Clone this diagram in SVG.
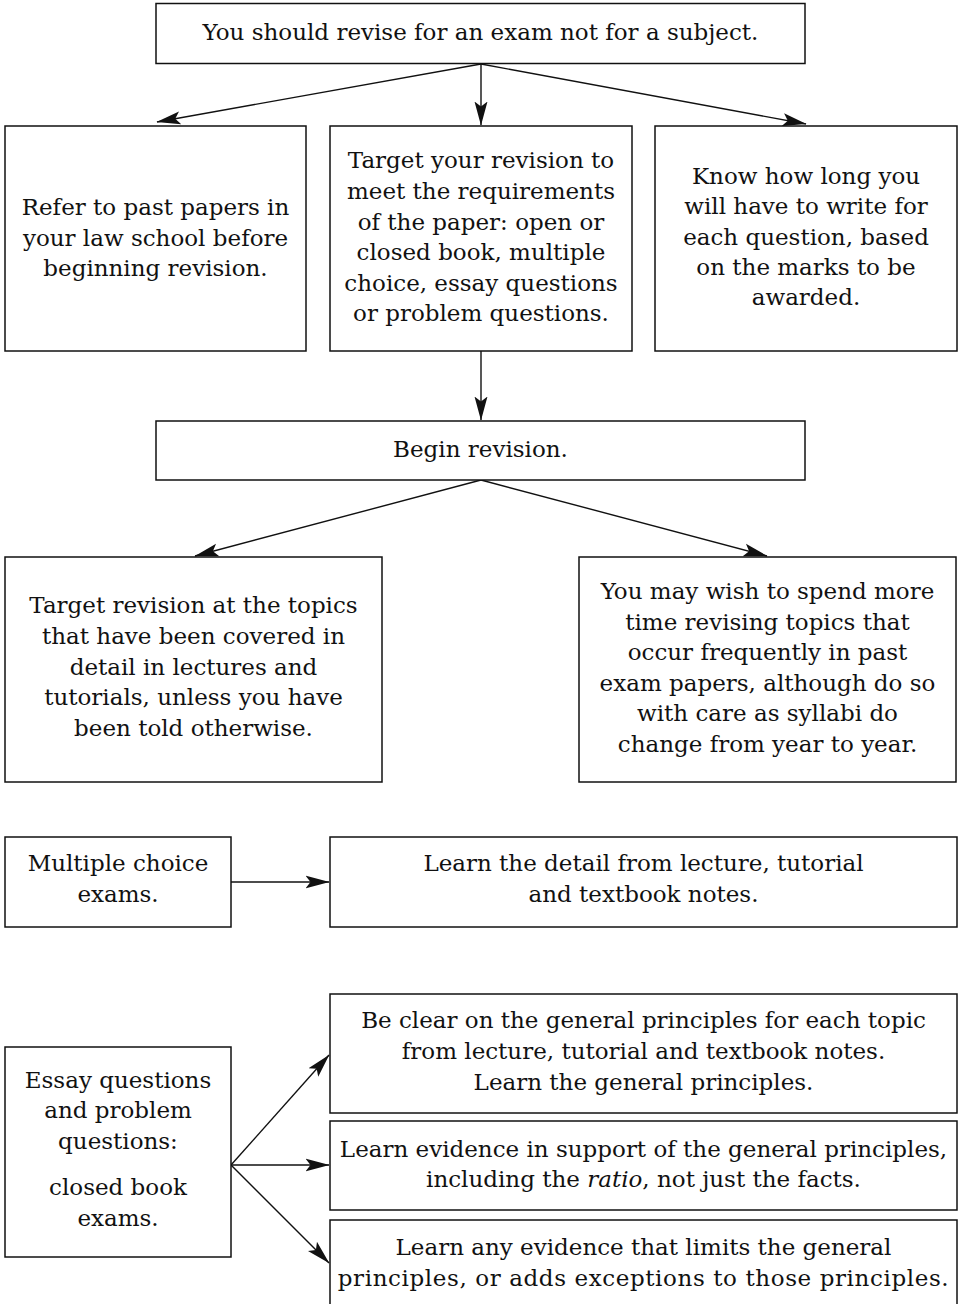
<svg xmlns="http://www.w3.org/2000/svg" width="959" height="1304" viewBox="0 0 959 1304">
<defs>
<style>
.box{fill:#fff;stroke:#111;stroke-width:1.5}
.t{font-family:"DejaVu Serif","Liberation Serif",serif;font-size:23px;fill:#111;text-anchor:middle}
.c{stroke:#111;stroke-width:1.4;fill:none;marker-end:url(#ah)}
</style>
<marker id="ah" markerUnits="userSpaceOnUse" markerWidth="25" markerHeight="14" refX="23.5" refY="7" orient="auto" viewBox="0 0 25 14">
<path d="M0,0.5 L24,7 L0,13.5 L5,7 Z" fill="#111"/>
</marker>
</defs>
<rect width="959" height="1304" fill="#fff"/>
<g id="connectors">
<line class="c" x1="481" y1="64" x2="157" y2="122"/>
<line class="c" x1="481" y1="64" x2="481" y2="125"/>
<line class="c" x1="481" y1="64" x2="806" y2="124"/>
<line class="c" x1="481" y1="351" x2="481" y2="420"/>
<line class="c" x1="481" y1="480" x2="195" y2="556"/>
<line class="c" x1="481" y1="480" x2="767" y2="556"/>
<line class="c" x1="231" y1="882" x2="329" y2="882"/>
<line class="c" x1="231" y1="1165" x2="329" y2="1055"/>
<line class="c" x1="231" y1="1165" x2="329" y2="1165"/>
<line class="c" x1="231" y1="1165" x2="329" y2="1263"/>
</g>
<g id="n-top">
<rect class="box" x="156" y="3.5" width="649" height="60"/>
<text class="t" x="480.5" y="40">You should revise for an exam not for a subject.</text>
</g>
<g id="n-pastpapers">
<rect class="box" x="5" y="126" width="301" height="225"/>
<text class="t"><tspan x="155.5" y="215">Refer to past papers in</tspan><tspan x="155.5" y="246">your law school before</tspan><tspan x="155.5" y="276">beginning revision.</tspan></text>
</g>
<g id="n-target">
<rect class="box" x="330" y="126" width="302" height="225"/>
<text class="t"><tspan x="481" y="168">Target your revision to</tspan><tspan x="481" y="199">meet the requirements</tspan><tspan x="481" y="230">of the paper: open or</tspan><tspan x="481" y="260">closed book, multiple</tspan><tspan x="481" y="291">choice, essay questions</tspan><tspan x="481" y="321">or problem questions.</tspan></text>
</g>
<g id="n-howlong">
<rect class="box" x="655" y="126" width="302" height="225"/>
<text class="t"><tspan x="806" y="184">Know how long you</tspan><tspan x="806" y="214">will have to write for</tspan><tspan x="806" y="245">each question, based</tspan><tspan x="806" y="275">on the marks to be</tspan><tspan x="806" y="305">awarded.</tspan></text>
</g>
<g id="n-begin">
<rect class="box" x="156" y="421" width="649" height="59"/>
<text class="t" x="480.5" y="457">Begin revision.</text>
</g>
<g id="n-topics">
<rect class="box" x="5" y="557" width="377" height="225"/>
<text class="t"><tspan x="193.5" y="613">Target revision at the topics</tspan><tspan x="193.5" y="644">that have been covered in</tspan><tspan x="193.5" y="675">detail in lectures and</tspan><tspan x="193.5" y="705">tutorials, unless you have</tspan><tspan x="193.5" y="736">been told otherwise.</tspan></text>
</g>
<g id="n-frequent">
<rect class="box" x="579" y="557" width="377" height="225"/>
<text class="t"><tspan x="767.5" y="599">You may wish to spend more</tspan><tspan x="767.5" y="630">time revising topics that</tspan><tspan x="767.5" y="660">occur frequently in past</tspan><tspan x="767.5" y="691">exam papers, although do so</tspan><tspan x="767.5" y="721">with care as syllabi do</tspan><tspan x="767.5" y="752">change from year to year.</tspan></text>
</g>
<g id="n-mc">
<rect class="box" x="5" y="837" width="226" height="90"/>
<text class="t"><tspan x="118" y="871">Multiple choice</tspan><tspan x="118" y="902">exams.</tspan></text>
</g>
<g id="n-detail">
<rect class="box" x="330" y="837" width="627" height="90"/>
<text class="t"><tspan x="643.5" y="871">Learn the detail from lecture, tutorial</tspan><tspan x="643.5" y="902">and textbook notes.</tspan></text>
</g>
<g id="n-essay">
<rect class="box" x="5" y="1047" width="226" height="210"/>
<text class="t"><tspan x="118" y="1088">Essay questions</tspan><tspan x="118" y="1118">and problem</tspan><tspan x="118" y="1149">questions:</tspan><tspan x="118" y="1195">closed book</tspan><tspan x="118" y="1226">exams.</tspan></text>
</g>
<g id="n-principles">
<rect class="box" x="330" y="994" width="627" height="119"/>
<text class="t"><tspan x="643.5" y="1028">Be clear on the general principles for each topic</tspan><tspan x="643.5" y="1059">from lecture, tutorial and textbook notes.</tspan><tspan x="643.5" y="1090">Learn the general principles.</tspan></text>
</g>
<g id="n-evidence">
<rect class="box" x="330" y="1121" width="627" height="89"/>
<text class="t"><tspan x="643.5" y="1157">Learn evidence in support of the general principles,</tspan><tspan x="643.5" y="1187">including the <tspan font-style="italic">ratio</tspan>, not just the facts.</tspan></text>
</g>
<g id="n-limits">
<rect class="box" x="330" y="1220" width="627" height="95"/>
<text class="t"><tspan x="643.5" y="1255">Learn any evidence that limits the general</tspan><tspan x="643.5" y="1286" letter-spacing="0.6">principles, or adds exceptions to those principles.</tspan></text>
</g>
</svg>
